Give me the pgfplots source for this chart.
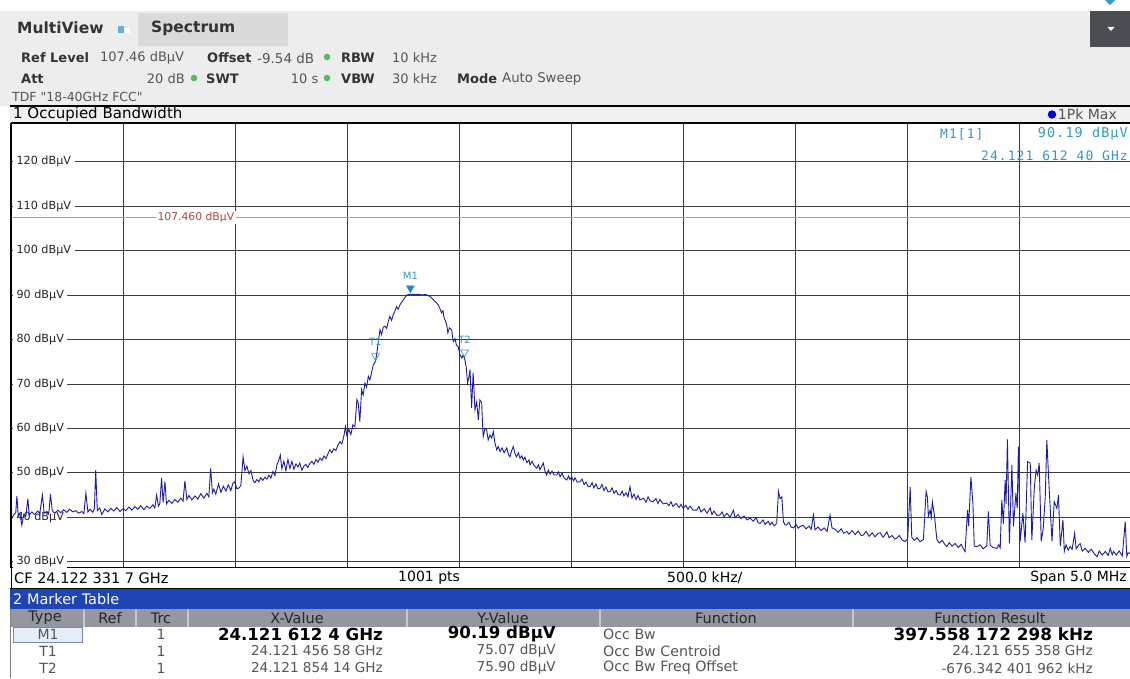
\documentclass[border=0pt]{standalone}
\usepackage{pgfplots}
\pgfplotsset{compat=1.18}
\usepackage{pgfplotstable}
\usepackage{fontspec}
\setmainfont{DejaVu Sans}
\newfontfamily\plainsans[Ligatures=TeXOff]{DejaVu Sans}
\newfontfamily\mkfont[LetterSpace=8]{DejaVu Sans Mono}
\newcommand{\fs}[1]{\fontsize{#1}{#1}\selectfont}
\definecolor{hdr}{HTML}{EDEDED}
\definecolor{tabc}{HTML}{DADADA}
\definecolor{btn}{HTML}{4A4D52}
\definecolor{txt}{HTML}{333333}
\definecolor{val}{HTML}{555555}
\definecolor{dotg}{HTML}{5DB85D}
\definecolor{barbg}{HTML}{F0F0F0}
\definecolor{gridc}{HTML}{3C3C3C}
\definecolor{trace}{HTML}{1C1CA6}
\definecolor{refl}{HTML}{E4887A}
\definecolor{reft}{HTML}{B0463C}
\definecolor{mk}{HTML}{3399C6}
\definecolor{mkfill}{HTML}{1A88CC}
\definecolor{tblue}{HTML}{1F44B4}
\definecolor{thead}{HTML}{9696A0}
\definecolor{tsep}{HTML}{C8C8CC}
\definecolor{selbg}{HTML}{E6EEF8}
\definecolor{selbd}{HTML}{7A8AA8}

% trace: frequency offset from CF (kHz), level (dBuV)
\pgfplotstableread{
f L
-2500 39.6
-2490 40.6
-2481 41.0
-2476 44.8
-2470 40.3
-2463 40.9
-2454 38.2
-2445 40.7
-2436 40.2
-2427 44.2
-2421 40.5
-2409 41.2
-2396 40.6
-2383 41.4
-2374 40.8
-2362 45.0
-2354 40.9
-2342 41.3
-2334 40.7
-2326 45.2
-2318 41.5
-2307 40.9
-2293 41.6
-2280 41.0
-2267 41.7
-2253 41.1
-2240 41.8
-2226 41.2
-2213 41.5
-2200 40.9
-2186 41.3
-2177 40.8
-2168 45.4
-2159 41.2
-2150 41.8
-2137 41.1
-2130 42.0
-2124 50.6
-2117 41.5
-2106 42.1
-2097 40.6
-2083 41.9
-2070 41.2
-2057 42.0
-2043 41.4
-2030 42.2
-2016 41.3
-2003 41.9
-1990 41.5
-1976 42.3
-1963 41.6
-1949 42.4
-1936 41.8
-1923 42.6
-1909 41.7
-1896 42.5
-1882 42.0
-1869 42.8
-1860 42.1
-1852 45.0
-1844 42.5
-1838 43.0
-1830 48.8
-1823 43.3
-1815 48.0
-1808 43.0
-1798 43.8
-1784 43.1
-1771 44.0
-1757 43.4
-1744 44.3
-1734 43.6
-1726 48.2
-1717 44.0
-1708 44.9
-1695 43.9
-1681 44.8
-1668 44.1
-1655 45.3
-1641 44.3
-1628 45.4
-1619 44.6
-1611 51.0
-1603 45.5
-1597 46.3
-1588 45.2
-1576 47.5
-1565 45.6
-1554 47.0
-1543 45.9
-1532 47.3
-1521 46.0
-1512 47.6
-1503 48.0
-1494 46.4
-1484 46.6
-1476 47.2
-1466 53.6
-1458 50.5
-1449 51.5
-1440 49.8
-1431 50.5
-1421 48.2
-1413 47.8
-1405 48.5
-1396 48.0
-1387 48.9
-1378 48.3
-1369 49.0
-1360 48.6
-1351 49.5
-1342 48.8
-1333 50.3
-1324 49.4
-1315 51.8
-1306 52.9
-1300 54.0
-1293 50.9
-1284 52.6
-1275 50.5
-1266 53.0
-1257 51.0
-1248 52.6
-1239 50.8
-1230 52.0
-1221 51.3
-1213 52.2
-1204 50.6
-1195 51.5
-1186 51.9
-1177 51.2
-1168 52.1
-1159 52.6
-1150 51.9
-1141 53.0
-1132 52.4
-1123 53.3
-1114 52.8
-1105 53.8
-1096 53.2
-1087 54.3
-1079 55.2
-1070 54.5
-1061 55.4
-1052 55.0
-1043 56.2
-1034 57.0
-1025 56.5
-1016 58.3
-1009 60.4
-1003 58.4
-994 59.8
-985 58.6
-976 60.8
-967 60.4
-958 66.5
-952 65.7
-945 61.5
-937 68.7
-930 67.5
-922 70.2
-915 69.3
-907 71.7
-900 70.9
-893 72.5
-885 74.3
-875 75.07
-869 77.0
-863 79.2
-855 82.2
-848 81.1
-840 82.8
-833 83.0
-825 82.5
-818 84.0
-811 85.2
-803 84.3
-796 85.6
-788 86.4
-781 87.4
-774 86.8
-766 87.8
-758 88.4
-751 88.9
-744 89.4
-736 90.0
-719 90.19
-703 90.1
-686 90.15
-668 90.05
-650 90.1
-640 89.9
-627 89.5
-617 88.9
-605 88.4
-595 87.8
-587 86.9
-580 86.0
-574 86.5
-569 84.9
-563 84.2
-557 83.3
-552 81.5
-545 82.6
-535 82.2
-528 79.5
-520 80.2
-514 78.8
-506 78.4
-498 76.6
-490 75.8
-485 76.4
-478 75.90
-470 73.8
-464 70.2
-458 71.5
-453 73.2
-446 64.6
-439 72.5
-431 64.2
-423 66.0
-416 61.9
-409 66.4
-401 65.8
-397 60.8
-394 58.2
-386 60.0
-379 59.7
-372 57.4
-364 58.5
-356 57.8
-349 59.3
-342 56.8
-334 55.2
-327 55.9
-319 54.8
-310 55.6
-301 54.5
-289 55.6
-282 54.2
-275 53.6
-267 55.0
-260 55.9
-252 54.3
-245 53.6
-237 54.5
-230 53.3
-222 53.8
-215 52.9
-208 53.5
-199 52.3
-190 52.9
-185 51.8
-176 52.6
-167 51.6
-155 51.0
-147 51.8
-141 50.7
-133 51.5
-126 52.2
-118 50.3
-111 49.5
-103 50.6
-96 49.7
-87 50.4
-78 49.5
-66 49.5
-58 50.2
-51 49.1
-42 49.9
-33 48.8
-21 48.4
-13 49.3
-7 48.5
1 49.1
9 48.2
16 48.9
25 47.9
38 48.0
47 48.6
56 47.4
65 47.9
74 46.9
83 46.9
92 47.8
100 46.6
109 47.5
118 46.4
127 46.5
136 47.4
145 46.0
154 46.8
163 45.7
172 45.8
181 46.6
190 45.4
199 46.0
208 45.1
217 45.0
226 45.9
234 44.8
243 45.5
252 44.6
261 46.9
270 44.3
279 45.2
288 44.0
297 44.9
306 43.9
321 44.3
333 43.4
342 44.6
351 43.7
365 43.5
377 44.2
386 43.1
395 44.0
409 43.0
425 43.2
435 42.6
444 43.5
453 42.4
467 43.1
480 42.2
489 42.9
499 42.0
511 42.7
520 41.8
529 42.5
543 41.6
559 41.6
569 42.4
578 41.2
592 41.9
605 40.9
619 42.1
627 40.6
636 41.4
650 40.4
663 40.5
672 41.2
681 40.1
694 40.9
708 40.0
723 41.6
730 39.9
744 40.6
757 39.7
770 40.3
784 39.4
797 39.8
811 39.1
824 39.9
833 38.8
842 38.6
855 39.4
864 38.4
878 39.1
886 38.3
895 38.9
904 38.1
916 38.6
924 45.8
931 44.2
939 44.6
946 39.0
953 38.3
961 38.3
971 38.9
980 37.8
991 37.6
1003 38.4
1012 37.5
1020 37.9
1034 38.2
1047 37.4
1061 38.0
1070 37.3
1080 40.5
1087 37.2
1101 37.8
1114 37.0
1128 37.6
1141 36.8
1154 40.5
1163 37.6
1177 37.3
1190 36.6
1204 37.4
1215 36.4
1229 36.8
1239 36.2
1253 37.0
1266 36.1
1280 36.9
1293 35.9
1303 36.0
1315 36.8
1329 35.7
1342 36.5
1355 35.6
1369 36.4
1378 36.5
1391 35.5
1408 36.7
1418 35.4
1431 35.9
1443 35.1
1452 35.3
1463 35.9
1476 34.9
1489 34.5
1501 35.2
1512 46.8
1519 35.5
1530 34.8
1543 35.4
1556 34.5
1571 35.0
1583 45.8
1589 44.5
1593 40.2
1601 41.6
1606 40.0
1611 43.5
1620 40.5
1631 35.0
1641 34.2
1655 34.8
1668 33.8
1676 33.4
1686 34.3
1699 33.5
1713 34.1
1726 33.2
1740 33.9
1748 33.0
1757 32.3
1768 41.6
1773 38.0
1783 49.1
1792 43.2
1798 33.5
1810 33.4
1824 33.8
1838 32.9
1854 33.6
1861 41.3
1869 33.7
1882 33.2
1899 33.0
1907 33.8
1914 33.1
1921 43.9
1928 38.5
1936 48.4
1940 43.0
1946 57.5
1955 34.1
1966 51.8
1973 37.9
1984 45.4
1990 42.0
1995 55.9
2003 34.5
2015 40.9
2025 34.3
2036 52.5
2048 52.2
2055 34.9
2066 46.5
2074 50.6
2081 49.5
2088 52.2
2097 34.6
2106 37.5
2115 44.6
2122 57.4
2132 46.9
2145 34.6
2155 43.5
2167 42.0
2174 45.0
2182 33.5
2194 39.4
2200 32.3
2208 33.8
2217 32.6
2226 33.4
2235 32.8
2246 36.4
2253 32.9
2262 33.6
2271 34.1
2280 32.4
2293 33.0
2307 32.1
2320 32.8
2334 31.8
2346 31.1
2356 32.4
2369 31.5
2383 32.3
2396 31.4
2405 33.0
2414 31.6
2420 32.3
2432 31.5
2445 32.4
2459 31.3
2472 39.0
2479 31.2
2485 32.0
2494 31.9
2500 31.5
}\tracedata

\begin{document}
\begin{tikzpicture}[x=1pt,y=1pt]
\useasboundingbox (0,0) rectangle (1130,678);
\fill[white] (0,0) rectangle (1130,678);
% ---------- header ----------
\fill[hdr] (0,572) rectangle (1130,667);
\fill[tabc] (138,632) rectangle (288,665);
\fill[btn] (1090,631) rectangle (1131,667);
\fill[white] (1107.5,651) -- (1114.5,651) -- (1111,647) -- cycle;
\fill[mk] (1105,678) -- (1115,678) -- (1110,673) -- cycle;
\fill[mk!75] (118,645) rectangle (124,652);
\fill[white] (124,645) rectangle (130,650);
\node[anchor=west,inner sep=0pt,font=\bfseries\fs{15.5},text=txt] at (17,650) {MultiView};
\node[anchor=west,inner sep=0pt,font=\bfseries\fs{15.5},text=txt] at (151,650) {Spectrum};
% row 2
\node[anchor=west,inner sep=0pt,font=\bfseries\fs{13},text=txt] at (21,620) {Ref Level};
\node[anchor=west,inner sep=0pt,font=\fs{13},text=val] at (100,620) {107.46 dBµV};
\node[anchor=west,inner sep=0pt,font=\bfseries\fs{13},text=txt] at (207,620) {Offset};
\node[anchor=west,inner sep=0pt,font=\fs{13.5},text=val] at (257,620) {-9.54 dB};
\fill[dotg] (327,621) circle (3.3);
\node[anchor=west,inner sep=0pt,font=\bfseries\fs{13},text=txt] at (341,620) {RBW};
\node[anchor=west,inner sep=0pt,font=\fs{13},text=val] at (392,620) {10 kHz};
% row 3
\node[anchor=west,inner sep=0pt,font=\bfseries\fs{13},text=txt] at (21,599) {Att};
\node[anchor=east,inner sep=0pt,font=\fs{13},text=val] at (185,599) {20 dB};
\fill[dotg] (194,600) circle (3.3);
\node[anchor=west,inner sep=0pt,font=\bfseries\fs{13},text=txt] at (206,599) {SWT};
\node[anchor=east,inner sep=0pt,font=\fs{13},text=val] at (318.5,599) {10 s};
\fill[dotg] (327,600) circle (3.3);
\node[anchor=west,inner sep=0pt,font=\bfseries\fs{13},text=txt] at (341,599) {VBW};
\node[anchor=west,inner sep=0pt,font=\fs{13},text=val] at (392,599) {30 kHz};
\node[anchor=west,inner sep=0pt,font=\bfseries\fs{13},text=txt] at (457,599) {Mode};
\node[anchor=west,inner sep=0pt,font=\fs{13.3},text=val] at (502,599) {Auto Sweep};
\node[anchor=west,inner sep=0pt,font=\plainsans\fs{12.5},text=val] at (12,581) {TDF "18-40GHz FCC"};
% ---------- window title bar ----------
\fill[barbg] (10,555) rectangle (1131,572);
\draw[black,line width=1.6pt] (10,572) -- (1131,572);
\draw[black,line width=0.8pt] (10,555) -- (1131,555);
\node[anchor=west,inner sep=0pt,font=\fs{15},text=black] at (13,563.5) {1 Occupied Bandwidth};
\fill[blue!90!black] (1052,563.5) circle (4.2);
\node[anchor=east,inner sep=0pt,font=\fs{14},text=val] at (1117,563.5) {1Pk Max};
% ---------- spectrum ----------
\begin{axis}[
  at={(11.5pt,110.3pt)}, anchor=south west,
  scale only axis, width=1120pt, height=444.7pt,
  xmin=-2500, xmax=2500, ymin=28.65, ymax=128.71,
  xtick={-2000,-1500,...,2000}, ytick={30,40,...,120},
  xticklabels={}, yticklabels={},
  major tick length=0pt,
  grid=major, grid style={gridc, line width=0.8pt},
  axis line style={black, line width=1pt},
  clip=true,
]
\foreach \v in {30,40,...,120}{
  \edef\tmp{\noexpand\node[anchor=west,fill=white,inner xsep=3.5pt,inner ysep=1pt,font=\noexpand\fs{11.2},text=black!85] at (axis cs:-2494,\v) {\v\space dBµV};}
  \tmp
}
\addplot[refl, line width=0.8pt] coordinates {(-2500,107.46) (2500,107.46)};
\node[fill=white,inner xsep=2pt,inner ysep=1pt,font=\fs{10.8},text=reft] at (axis cs:-1677,107.46) {107.460 dBµV};
\addplot[trace, line width=0.9pt] table[x=f,y=L] {\tracedata};
\addplot[only marks, mark=triangle*, mark size=4.5pt,
  mark options={yshift=6pt, rotate=180, fill=mkfill, draw=mkfill}] coordinates {(-719.3,90.19)};
\addplot[only marks, mark=triangle, mark size=4.5pt,
  mark options={yshift=5.5pt, rotate=180, draw=mk, fill=white, line width=0.7pt}] coordinates {(-875.1,75.07) (-477.6,75.90)};
\node[text=mk,font=\fs{10},yshift=18pt] at (axis cs:-719.3,90.19) {M1};
\node[text=mk,font=\fs{10},yshift=19.5pt] at (axis cs:-875.1,75.07) {T1};
\node[text=mk,font=\fs{10},yshift=17.7pt] at (axis cs:-477.6,75.90) {T2};
\end{axis}
\draw[black,line width=2pt] (11,110.3) -- (11,555);
\node[anchor=west,inner sep=0pt,font=\mkfont\fs{13},text=mk] at (940,544) {M1[1]};
\node[anchor=east,inner sep=0pt,font=\mkfont\fs{13.5},text=mk] at (1128,544) {90.19 dBµV};
\node[anchor=east,inner sep=0pt,font=\mkfont\fs{13},text=mk] at (1128,522) {24.121 612 40 GHz};
% ---------- bottom info ----------
\draw[black,line width=0.8pt] (10,90) -- (1131,90);
\draw[black,line width=1pt] (11,90) -- (11,110.3);
\node[anchor=west,inner sep=0pt,font=\fs{14.5}] at (14,100) {CF 24.122 331 7 GHz};
\node[anchor=west,inner sep=0pt,font=\fs{14}] at (398,100) {1001 pts};
\node[anchor=west,inner sep=0pt,font=\fs{14}] at (667,100) {500.0 kHz/};
\node[anchor=east,inner sep=0pt,font=\fs{14}] at (1127,100) {Span 5.0 MHz};
% ---------- marker table ----------
\fill[tblue] (10,69) rectangle (1131,89);
\node[anchor=west,inner sep=0pt,font=\fs{14.5},text=white] at (13,79) {2 Marker Table};
\fill[thead] (10,51) rectangle (1131,69);
\foreach \xs in {84,136,188,407,600,853}{\draw[tsep,line width=1.2pt] (\xs,51) -- (\xs,69);}
\draw[gray,line width=0.8pt] (10,0) -- (10,69);
\foreach \xc/\lab in {45/Type,110/Ref,161/Trc,297/X-Value,503/Y-Value,726/Function,990/Function Result}{
  \node[inner sep=0pt,font=\fs{14.5},text=black!85] at (\xc,60) {\lab};}
\fill[selbg] (13,36) rectangle (82,51);
\draw[selbd,line width=0.7pt] (13,36) rectangle (82,51);
% rows
\node[inner sep=0pt,font=\fs{14},text=val] at (48,44) {M1};
\node[inner sep=0pt,font=\fs{14},text=val] at (48,27) {T1};
\node[inner sep=0pt,font=\fs{14},text=val] at (48,10) {T2};
\foreach \yy in {44,27,10}{\node[inner sep=0pt,font=\fs{14},text=val] at (161,\yy) {1};}
\node[anchor=east,inner sep=0pt,font=\bfseries\fs{16.6},text=black] at (383,44) {24.121 612 4 GHz};
\node[anchor=east,inner sep=0pt,font=\fs{13.6},text=val] at (383,27) {24.121 456 58 GHz};
\node[anchor=east,inner sep=0pt,font=\fs{13.6},text=val] at (383,10) {24.121 854 14 GHz};
\node[anchor=east,inner sep=0pt,font=\bfseries\fs{16.6},text=black] at (556,44) {90.19 dBµV};
\node[anchor=east,inner sep=0pt,font=\fs{13.6},text=val] at (556,27) {75.07 dBµV};
\node[anchor=east,inner sep=0pt,font=\fs{13.6},text=val] at (556,10) {75.90 dBµV};
\node[anchor=west,inner sep=0pt,font=\fs{14.2},text=val] at (603,44) {Occ Bw};
\node[anchor=west,inner sep=0pt,font=\fs{14.2},text=val] at (603,27) {Occ Bw Centroid};
\node[anchor=west,inner sep=0pt,font=\fs{14.2},text=val] at (603,10) {Occ Bw Freq Offset};
\node[anchor=east,inner sep=0pt,font=\bfseries\fs{16.8},text=black] at (1093,44) {397.558 172 298 kHz};
\node[anchor=east,inner sep=0pt,font=\fs{13.6},text=val] at (1093,27) {24.121 655 358 GHz};
\node[anchor=east,inner sep=0pt,font=\fs{13.6},text=val] at (1093,10) {-676.342 401 962 kHz};
\end{tikzpicture}
\end{document}
